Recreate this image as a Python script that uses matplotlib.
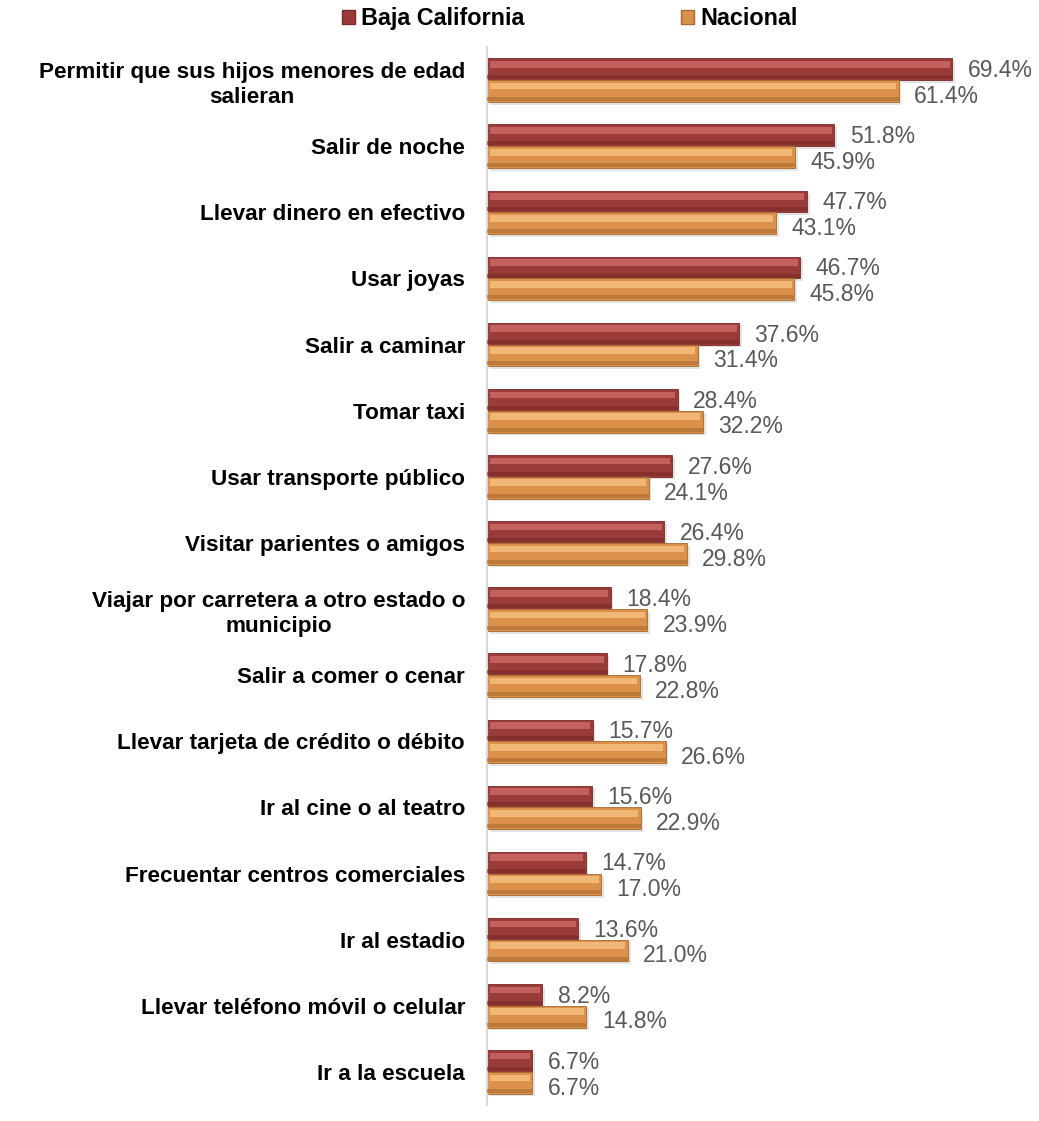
import numpy as np
import matplotlib.pyplot as plt
from matplotlib.patches import Patch

plt.rcParams['font.family'] = ['Liberation Sans', 'DejaVu Sans']

# Datos
categorias = [
    'Permitir que sus hijos menores de edad\nsalieran',
    'Salir de noche',
    'Llevar dinero en efectivo',
    'Usar joyas',
    'Salir a caminar',
    'Tomar taxi',
    'Usar transporte público',
    'Visitar parientes o amigos',
    'Viajar por carretera a otro estado o\nmunicipio',
    'Salir a comer o cenar',
    'Llevar tarjeta de crédito o débito',
    'Ir al cine o al teatro',
    'Frecuentar centros comerciales',
    'Ir al estadio',
    'Llevar teléfono móvil o celular',
    'Ir a la escuela',
]
baja_california = [69.4, 51.8, 47.7, 46.7, 37.6, 28.4, 27.6, 26.4, 18.4, 17.8, 15.7, 15.6, 14.7, 13.6, 8.2, 6.7]
nacional = [61.4, 45.9, 43.1, 45.8, 31.4, 32.2, 24.1, 29.8, 23.9, 22.8, 26.6, 22.9, 17.0, 21.0, 14.8, 6.7]

# Colores (base, brillo, sombra inferior)
rojo, rojo_claro, rojo_oscuro = '#993B39', '#D36E6C', '#7A2A28'
naranja, naranja_claro, naranja_oscuro = '#DC914B', '#F8C485', '#A86A30'

fig = plt.figure(figsize=(10.39, 11.21), dpi=100)
ax = fig.add_axes([0.469, 0.0143, 0.516, 0.9437])

y = np.arange(len(categorias))
off = 0.165
alto = 0.33
bc = np.array(baja_california)
na = np.array(nacional)

# sombra
ax.barh(y - off + 0.04, bc, height=alto, left=0.4, color='#C8C8C8', alpha=0.5, zorder=1)
ax.barh(y + off + 0.04, na, height=alto, left=0.4, color='#C8C8C8', alpha=0.5, zorder=1)

# barras principales
ax.barh(y - off, bc, height=alto, color=rojo, edgecolor=rojo_oscuro, linewidth=0.6, zorder=2)
ax.barh(y + off, na, height=alto, color=naranja, edgecolor=naranja_oscuro, linewidth=0.6, zorder=2)

# efecto bisel: franja clara arriba, franja oscura abajo
ax.barh(y - off - 0.075, bc - 0.8, height=0.1, left=0.4, color=rojo_claro, alpha=0.75, linewidth=0, zorder=3)
ax.barh(y + off - 0.075, na - 0.8, height=0.1, left=0.4, color=naranja_claro, alpha=0.75, linewidth=0, zorder=3)
ax.barh(y - off + 0.12, bc, height=0.06, color=rojo_oscuro, alpha=0.6, linewidth=0, zorder=3)
ax.barh(y + off + 0.12, na, height=0.06, color=naranja_oscuro, alpha=0.6, linewidth=0, zorder=3)

for i in range(len(categorias)):
    ax.annotate(f'{baja_california[i]:.1f}%', (baja_california[i], y[i] - off + 0.02),
                xytext=(11, 0), textcoords='offset points', va='center', ha='left',
                fontsize=16.5, color='#595959')
    ax.annotate(f'{nacional[i]:.1f}%', (nacional[i], y[i] + off + 0.08),
                xytext=(11, 0), textcoords='offset points', va='center', ha='left',
                fontsize=16.5, color='#595959')

ax.set_xlim(0, 80)
ax.set_ylim(len(categorias) - 0.5, -0.5)
ax.set_yticks(y)
ax.set_yticklabels(categorias, fontsize=16.2, fontweight='bold', multialignment='center', linespacing=1.25)
ax.tick_params(axis='y', length=0, pad=16)
ax.set_xticks([])
for s in ['top', 'right', 'bottom']:
    ax.spines[s].set_visible(False)
ax.spines['left'].set_color('#D9D9D9')
ax.spines['left'].set_linewidth(1.5)

handles = [Patch(facecolor=rojo, edgecolor=rojo_oscuro), Patch(facecolor=naranja, edgecolor=naranja_oscuro)]
leg = fig.legend(handles, ['Baja California', 'Nacional'], loc='center', bbox_to_anchor=(0.5486, 0.9835),
                 ncol=2, frameon=False, handlelength=0.56, handleheight=0.56, handletextpad=0.26,
                 columnspacing=6.7, borderpad=0.2, prop={'weight': 'bold', 'size': 16.8})

fig.savefig('out.png', dpi=100)
